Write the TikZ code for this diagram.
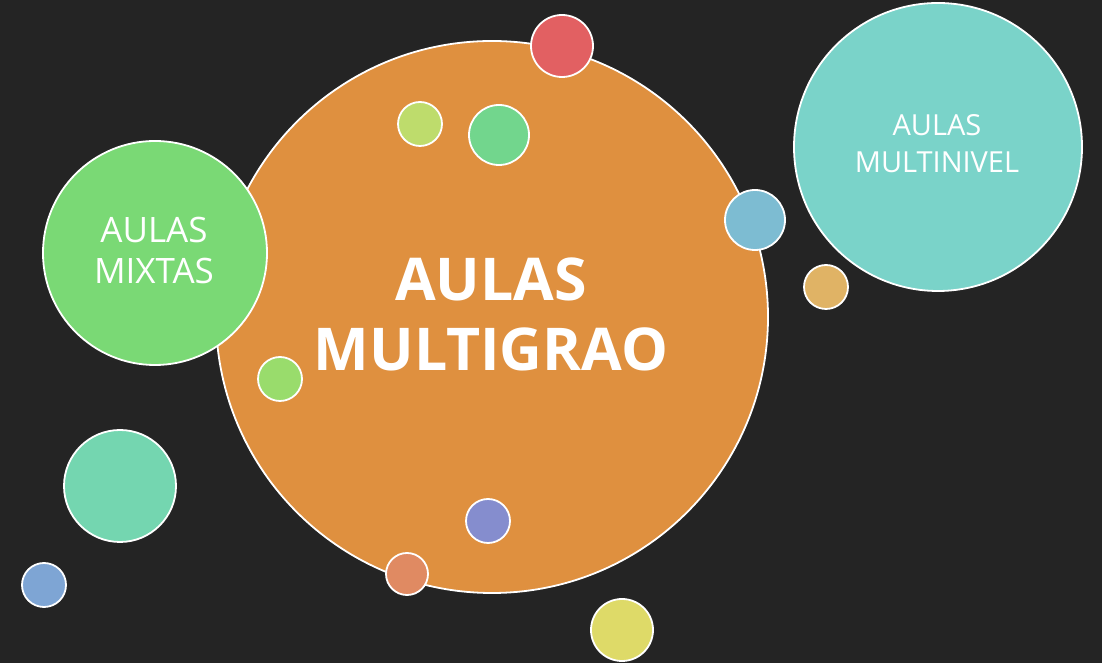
\documentclass[tikz,border=0pt]{standalone}
\usepackage{fontspec}
\setmainfont{Open Sans}
\begin{document}
\begin{tikzpicture}[x=1pt,y=1pt,
  bub/.style={circle,draw=white,line width=1.8pt,inner sep=0pt,minimum size=#1*2pt},
  lab/.style={text=white,align=center,font=\fontsize{29}{37}\selectfont}]
\definecolor{bg}{HTML}{242424}
\definecolor{cor}{HTML}{DF903F}
\definecolor{cmix}{HTML}{7AD975}
\definecolor{cniv}{HTML}{7AD3C9}
\definecolor{cred}{HTML}{E26062}
\definecolor{clg}{HTML}{BEDC6C}
\definecolor{cgr}{HTML}{72D68D}
\definecolor{cbl}{HTML}{7DBCD2}
\definecolor{ctan}{HTML}{E0B365}
\definecolor{clg2}{HTML}{99DC6C}
\definecolor{cmint}{HTML}{74D6B0}
\definecolor{cbs}{HTML}{7EA5D4}
\definecolor{cpur}{HTML}{858DCE}
\definecolor{csal}{HTML}{E08A62}
\definecolor{cyel}{HTML}{DEDA68}
\fill[bg] (0,0) rectangle (1102,663);
\useasboundingbox (0,0) rectangle (1102,663);
\node[bub=276,fill=cor] (main) at (492,346) {};
\node[text=white,align=center,font=\bfseries\fontsize{59}{70}\selectfont] (maint) at (491,349) {AULAS\\MULTIGRAO};
\node[bub=112,fill=cmix] (mix) at (155,410) {};
\node[lab,font=\fontsize{35}{41}\selectfont] (mixt) at (154,412) {AULAS\\MIXTAS};
\node[bub=144,fill=cniv] (niv) at (938,516) {};
\node[lab] (nivt) at (937,519) {AULAS\\MULTINIVEL};
\node[bub=31,fill=cred] (b1) at (562,617) {};
\node[bub=22,fill=clg] (b2) at (420,539) {};
\node[bub=30,fill=cgr] (b3) at (499,528) {};
\node[bub=30,fill=cbl] (b4) at (755,443) {};
\node[bub=22,fill=ctan] (b5) at (826,376) {};
\node[bub=22,fill=clg2] (b6) at (280,284) {};
\node[bub=56,fill=cmint] (b7) at (120,177) {};
\node[bub=22,fill=cbs] (b8) at (44,78) {};
\node[bub=22,fill=cpur] (b9) at (488,142) {};
\node[bub=21,fill=csal] (b10) at (407,89) {};
\node[bub=31,fill=cyel] (b11) at (622,33) {};
\end{tikzpicture}
\end{document}
